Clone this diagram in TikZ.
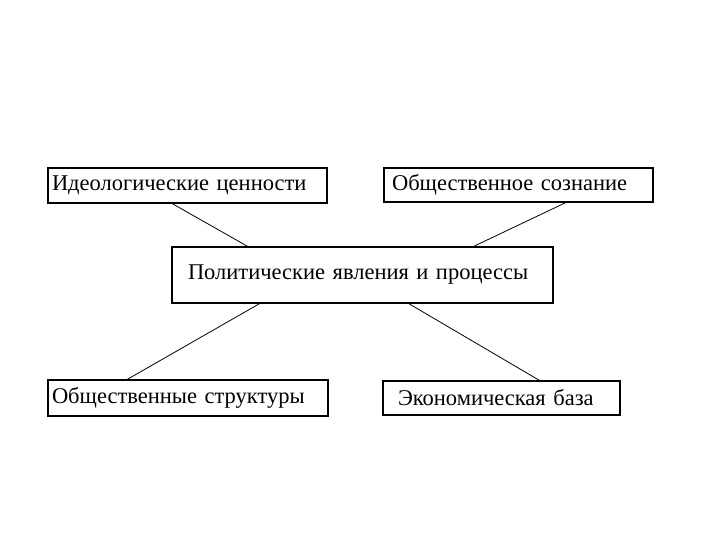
\documentclass[tikz,border=0pt]{standalone}
\usepackage{fontspec}
\setmainfont{Liberation Serif}
\usetikzlibrary{calc}
\begin{document}
\begin{tikzpicture}[x=1pt,y=-1pt,
  box/.style args={#1/#2/#3}{draw=black, line width=1.3pt, minimum width=#1pt, minimum height=#2pt,
    text width=#1pt-2*#3pt, inner xsep=#3pt, align=left, inner ysep=0pt, font=\fontsize{22.5}{26}\selectfont},
  link/.style={draw=black, line width=0.8pt}]
\useasboundingbox (0,0) rectangle (720,540);
\node[box=279/35/4] (ideo) at (187.5,185.5) {Идеологические ценности};
\node[box=269/34/8] (soz) at (518.5,185) {Общественное сознание};
\node[box=381/56/16, line width=1.7pt] (pol) at (362.5,275) {Политические явления и процессы};
\node[box=280/36/4] (str) at (188,398) {Общественные структуры};
\node[box=237/34/15] (eko) at (501.5,398) {Экономическая база};
\draw[link] ([xshift=125pt]ideo.south west) -- ([xshift=76pt]pol.north west);
\draw[link] ([xshift=-88pt]soz.south east) -- ([xshift=303pt]pol.north west);
\draw[link] ([xshift=88pt]pol.south west) -- ([xshift=80pt]str.north west);
\draw[link] ([xshift=238pt]pol.south west) -- ([xshift=157pt]eko.north west);
\end{tikzpicture}
\end{document}
